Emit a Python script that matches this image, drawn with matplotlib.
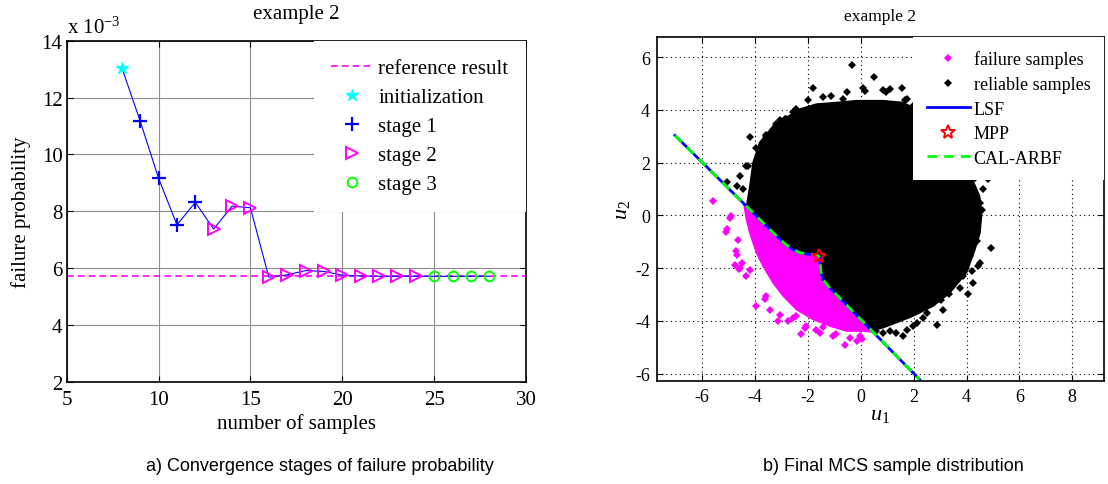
import numpy as np
import matplotlib
matplotlib.use('Agg')
import matplotlib.pyplot as plt
from matplotlib.ticker import FuncFormatter

# ---------------- data: panel a) convergence ----------------
n_samples = [8, 9, 10, 11, 12, 13, 14, 15, 16, 17, 18, 19, 20, 21, 22, 23, 24, 25, 26, 27, 28]
pf_values = [13.05e-3, 11.17e-3, 9.16e-3, 7.52e-3, 8.31e-3, 7.37e-3, 8.18e-3, 8.12e-3,
             5.68e-3, 5.76e-3, 5.91e-3, 5.88e-3, 5.75e-3, 5.72e-3, 5.71e-3, 5.71e-3,
             5.71e-3, 5.71e-3, 5.71e-3, 5.71e-3, 5.71e-3]
stage_of_point = ['init', 's1', 's1', 's1', 's1', 's2', 's2', 's2', 's2', 's2', 's2',
                  's2', 's2', 's2', 's2', 's2', 's2', 's3', 's3', 's3', 's3']
pf_reference = 5.71e-3
x_ticks_a = [5, 10, 15, 20, 25, 30]
y_ticks_a = [2e-3, 4e-3, 6e-3, 8e-3, 10e-3, 12e-3, 14e-3]

# ---------------- data: panel b) MCS samples ----------------
lsf_u1 = [-7.03, -3.00, -2.62, -2.30, -2.00, -1.66, -1.56, -1.50, -1.42, -1.22, 2.22]
lsf_u2 = [3.03, -0.97, -1.27, -1.42, -1.47, -1.48, -1.60, -2.20, -2.45, -2.70, -6.22]
mpp_u1 = [-1.60]
mpp_u2 = [-1.53]

# outer edge of the dense reliable-sample cloud (from LSF top-left to LSF bottom-right)
reliable_edge_u1 = [-4.33, -4.20, -4.08, -3.83, -3.32, -2.82, -2.31, -1.68, -0.92, -0.16,
                    0.85, 1.60, 2.10, 2.90, 3.60, 4.13, 4.50, 4.57, 4.51, 4.32, 4.00,
                    3.37, 2.74, 1.98, 1.35, 0.85, 0.40]
reliable_edge_u2 = [0.33, 1.10, 2.00, 2.76, 3.39, 3.71, 4.03, 4.22, 4.28, 4.35,
                    4.35, 4.28, 4.03, 3.40, 2.60, 1.59, 0.72, 0.00, -0.67, -1.30, -2.18,
                    -2.94, -3.44, -3.82, -4.07, -4.26, -4.38]
reliable_out_u1 = [-0.32, 0.51, -1.81, 1.54, 1.10, 0.15, -4.20, -5.05, -4.68, -4.58, -4.33,
                   -2.82, -2.00, -1.11, -0.67, 0.85, 1.67, 2.11, 4.82, 4.63, 4.51, 4.32,
                   4.91, 4.07, 4.23, 3.75, 3.12, 2.87, 2.36, 1.98, 1.60, 1.35, 0.85, 0.59,
                   4.44, 4.19, 4.51, -3.60, -3.05, -2.55, 3.05, 3.35,
                   -2.88, -3.19, -3.57, -3.98, -4.27, -4.46, -2.44, -1.43, -0.54, 0.09,
                   0.97, 1.73, 1.98, 4.57, 4.44, 4.38, 4.13, 3.88, 3.43, 2.99, 2.49,
                   2.11, 1.73, 1.10]
reliable_out_u2 = [5.71, 5.24, 4.82, 4.83, 4.79, 4.73, 2.97, 1.26, 1.10, 1.49, 1.87,
                   3.65, 4.37, 4.54, 4.41, 4.75, 4.38, 3.96, 1.36, 0.98, 0.47, 1.42,
                   -1.24, -3.00, -2.56, -2.75, -3.57, -4.14, -3.88, -4.20, -4.58, -4.45,
                   -4.45, -4.39, -1.93, -2.12, -1.80, 3.05, 3.60, 3.90, -3.20, -3.00,
                   3.67, 3.46, 3.01, 2.57, 1.87, 0.98, 4.03, 4.47, 4.66, 4.82,
                   4.66, 4.41, 4.16, 0.21, -0.16, -0.98, -1.55, -2.31, -2.69, -3.19, -3.69,
                   -4.07, -4.33, -4.39]

# outer edge of the dense failure-sample cloud (from LSF top-left to LSF bottom-right)
failure_edge_u1 = [-4.42, -4.33, -4.20, -3.95, -3.70, -3.32, -2.94, -2.44, -1.81, -1.17,
                   -0.54, 0.09, 0.42]
failure_edge_u2 = [0.40, -0.16, -0.67, -1.42, -1.93, -2.56, -3.06, -3.57, -3.95, -4.20,
                   -4.39, -4.39, -4.42]
failure_out_u1 = [-5.59, -4.96, -5.11, -4.73, -4.77, -4.61, -3.98, -3.13, -2.75, -2.25,
                  -1.68, -0.61, -0.16, 0.06, -1.05, -2.06, -2.56, -3.57, -4.33, -4.92,
                  -5.06, -4.65, -4.68, -4.51, -4.20, -4.58, -3.64, -3.45, -3.07, -2.44,
                  -2.12, -1.55, -0.92, -0.42, -0.04, -1.43]
failure_out_u2 = [0.56, -0.10, -0.64, -1.36, -1.87, -2.03, -3.42, -4.01, -4.01, -4.49,
                  -4.33, -4.92, -4.77, -4.68, -4.58, -4.20, -3.88, -3.06, -2.31, -0.01,
                  -0.52, -0.92, -1.49, -1.80, -2.06, -1.99, -3.17, -3.57, -3.76, -3.82,
                  -4.26, -4.45, -4.51, -4.64, -4.58, -4.24]
x_ticks_b = [-6, -4, -2, 0, 2, 4, 6, 8]
y_ticks_b = [-6, -4, -2, 0, 2, 4, 6]

# ---------------- style ----------------
plt.rcParams['font.family'] = ['Liberation Serif', 'DejaVu Serif']
plt.rcParams['mathtext.fontset'] = 'custom'
plt.rcParams['mathtext.rm'] = 'Liberation Serif'
plt.rcParams['mathtext.it'] = 'Liberation Serif:italic'
plt.rcParams['mathtext.bf'] = 'Liberation Serif:bold'
plt.rcParams['axes.unicode_minus'] = False

MAG = '#ff00ff'
CYAN = '#00ffff'
BLUE = '#0000ff'
GREEN = '#00ff00'

fig = plt.figure(figsize=(11.08, 4.85), dpi=100)

# ================= panel a =================
FA = 15
axa = fig.add_axes([66.7 / 1108, 1 - 382.7 / 485, (526 - 66.7) / 1108, (382.7 - 41.7) / 485])
axa.set_xlim(5, 30)
axa.set_ylim(2e-3, 14e-3)
axa.set_xticks(x_ticks_a)
axa.set_yticks(y_ticks_a)
axa.yaxis.set_major_formatter(FuncFormatter(lambda v, p: f'{v * 1e3:.0f}'))
axa.grid(True, color='0.55', linestyle='-', linewidth=0.8)
axa.set_axisbelow(True)
axa.tick_params(direction='in', top=True, right=True, length=4, width=0.8,
                labelsize=FA)
axa.tick_params(axis='x', pad=6)
axa.tick_params(axis='y', pad=3)
for s in axa.spines.values():
    s.set_linewidth(1.2)

h_ref = axa.axhline(pf_reference, color=MAG, linestyle=(0, (4, 2.5)), linewidth=1.2,
                    label='reference result', zorder=2)
axa.plot(n_samples, pf_values, color=BLUE, linewidth=0.8, zorder=3)

marker_style = {
    'init': dict(marker='*', color=CYAN, markersize=9, markerfacecolor=CYAN,
                 markeredgecolor=CYAN, label='initialization'),
    's1': dict(marker='+', color=BLUE, markersize=10, markeredgewidth=1.6, label='stage 1'),
    's2': dict(marker='>', color=MAG, markersize=9, markerfacecolor='none',
               markeredgecolor=MAG, markeredgewidth=1.4, label='stage 2'),
    's3': dict(marker='o', color=GREEN, markersize=7, markerfacecolor='none',
               markeredgecolor=GREEN, markeredgewidth=1.4, label='stage 3'),
}
handles_a = [h_ref]
for key in ['init', 's1', 's2', 's3']:
    xs = [x for x, s in zip(n_samples, stage_of_point) if s == key]
    ys = [y for y, s in zip(pf_values, stage_of_point) if s == key]
    h, = axa.plot(xs, ys, linestyle='none', zorder=4, **marker_style[key])
    handles_a.append(h)

axa.legend(handles=handles_a, loc='upper right', bbox_to_anchor=(1.0, 1.0),
           borderaxespad=0.0, fontsize=FA, frameon=True, fancybox=False,
           edgecolor='none', facecolor='white', framealpha=1.0,
           handlelength=1.95, handletextpad=0.3, labelspacing=0.45,
           borderpad=0.85, numpoints=1)

axa.set_title('example 2', fontsize=FA, pad=16)
axa.set_xlabel('number of samples', fontsize=FA, labelpad=3)
axa.set_ylabel('failure probability', fontsize=FA, labelpad=8)
axa.text(0.0, 1.022, r'x 10$^{-3}$', transform=axa.transAxes, fontsize=FA,
         ha='left', va='baseline')

# ================= panel b =================
FB = 13
axb = fig.add_axes([657 / 1108, 1 - 382 / 485, 447 / 1108, 344 / 485])
axb.set_xlim(-7.71, 9.2)
axb.set_ylim(-6.28, 6.76)
axb.set_xticks(x_ticks_b)
axb.set_yticks(y_ticks_b)
axb.grid(True, color='black', linestyle=(0, (1, 3)), linewidth=0.8)
axb.set_axisbelow(True)
axb.tick_params(direction='in', top=True, right=True, length=4, width=0.8,
                labelsize=FB, pad=5)
for s in axb.spines.values():
    s.set_linewidth(1.2)

lsf_u1_arr = np.array(lsf_u1)
lsf_u2_arr = np.array(lsf_u2)

# dense reliable cloud: outer edge + LSF back to start
inside = (lsf_u1_arr > reliable_edge_u1[0]) & (lsf_u1_arr < reliable_edge_u1[-1])
poly_r_u1 = list(reliable_edge_u1) + list(lsf_u1_arr[inside][::-1])
poly_r_u2 = list(reliable_edge_u2) + list(lsf_u2_arr[inside][::-1])
axb.fill(poly_r_u1, poly_r_u2, color='black', linewidth=1.0, edgecolor='black', zorder=2)

inside_f = (lsf_u1_arr > failure_edge_u1[0]) & (lsf_u1_arr < failure_edge_u1[-1])
poly_f_u1 = list(failure_edge_u1) + list(lsf_u1_arr[inside_f][::-1])
poly_f_u2 = list(failure_edge_u2) + list(lsf_u2_arr[inside_f][::-1])
axb.fill(poly_f_u1, poly_f_u2, color=MAG, linewidth=1.0, edgecolor=MAG, zorder=2)

h_fail, = axb.plot(failure_out_u1, failure_out_u2, linestyle='none', marker='D',
                   markersize=3.8, color=MAG, markeredgewidth=0, zorder=3,
                   label='failure samples')
h_rel, = axb.plot(reliable_out_u1, reliable_out_u2, linestyle='none', marker='D',
                  markersize=3.8, color='black', markeredgewidth=0, zorder=3,
                  label='reliable samples')
h_lsf, = axb.plot(lsf_u1, lsf_u2, color=BLUE, linewidth=2.0, zorder=4, label='LSF')
h_mpp, = axb.plot(mpp_u1, mpp_u2, linestyle='none', marker='*', markersize=10,
                  markerfacecolor='none', markeredgecolor='red', markeredgewidth=1.4,
                  zorder=6, label='MPP')
h_cal, = axb.plot(lsf_u1, lsf_u2, color=GREEN, linewidth=2.0,
                  linestyle=(0, (3.5, 2.5)), zorder=5, label='CAL-ARBF')

axb.legend(handles=[h_fail, h_rel, h_lsf, h_mpp, h_cal], loc='upper right',
           bbox_to_anchor=(1.0, 1.0), borderaxespad=0.0, fontsize=FB, frameon=True,
           fancybox=False, edgecolor='none', facecolor='white', framealpha=1.0,
           handlelength=2.4, handletextpad=0.2, labelspacing=0.42, borderpad=0.75,
           numpoints=1, markerscale=1.0)

axb.set_title('example 2', fontsize=12.5, pad=12)
axb.set_xlabel(r'$\mathit{u}_1$', fontsize=16, labelpad=0)
axb.set_ylabel(r'$\mathit{u}_2$', fontsize=16, labelpad=2)

# ================= captions =================
cap_font = ['Liberation Sans', 'DejaVu Sans']
fig.text(320 / 1108, 1 - 467 / 485, 'a) Convergence stages of failure probability',
         ha='center', va='center', fontsize=13, family=cap_font)
fig.text(893 / 1108, 1 - 467 / 485, 'b) Final MCS sample distribution',
         ha='center', va='center', fontsize=13, family=cap_font)

fig.savefig('out.png', dpi=100)
